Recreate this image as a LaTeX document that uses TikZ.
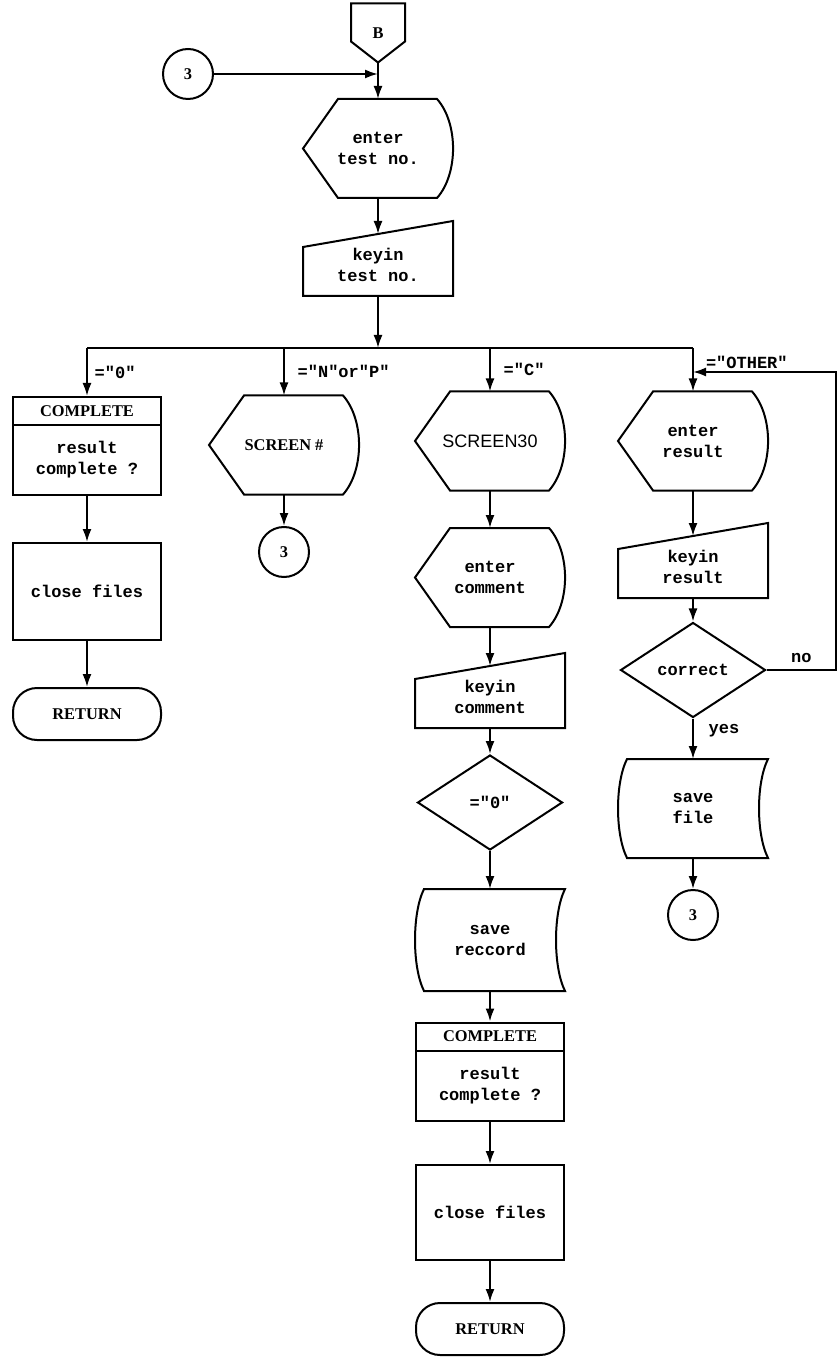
\documentclass[tikz,border=0pt]{standalone}
\usepackage{fontspec}
\setmainfont{Liberation Serif}
\setmonofont{Liberation Mono}
\setsansfont{Liberation Sans}
\usepackage{tikz}
\usetikzlibrary{arrows.meta}
\usetikzlibrary{calc}
\usetikzlibrary{positioning}
\usetikzlibrary{shapes.geometric}

\newcommand{\flowtt}{\ttfamily\bfseries\fontsize{8.5}{10.5}\selectfont}
\newcommand{\flowcap}{\rmfamily\bfseries\fontsize{8.2}{10}\selectfont}

\begin{document}
\begin{tikzpicture}[-,>={Latex[length=6.5pt,width=4.5pt]},line width=1pt,x=0.5pt,y=-0.5pt,font=\flowtt]
  \tikzstyle{conn}=[draw, circle, minimum size=25pt, inner sep=0pt, font=\flowcap]
  \tikzstyle{proc}=[draw, minimum width=74pt, minimum height=48.5pt, align=center]
  \tikzstyle{head}=[draw, minimum width=74pt, minimum height=14pt, inner sep=0pt, font=\flowcap]
  \tikzstyle{term}=[draw, rounded corners=12pt, minimum width=74pt, minimum height=26pt, font=\flowcap]
  \tikzstyle{dec}=[draw, diamond, minimum width=72.5pt, minimum height=47.5pt, inner sep=0pt]
  \tikzstyle{offp}=[minimum width=26pt, minimum height=28.5pt, inner sep=0pt, font=\flowcap,
    append after command={\pgfextra{\draw (\tikzlastnode.north west) -- (\tikzlastnode.north east)
      -- ($(\tikzlastnode.north east)+(0pt,-19pt)$) -- (\tikzlastnode.south)
      -- ($(\tikzlastnode.north west)+(0pt,-19pt)$) -- cycle;}}]
  \tikzstyle{disp}=[minimum width=74pt, minimum height=48.5pt, inner sep=0pt, align=center,
    append after command={\pgfextra{\draw ($(\tikzlastnode.north west)+(17.5pt,0pt)$)
      -- ($(\tikzlastnode.north east)+(-8pt,0pt)$)
      .. controls +(10.7pt,-12pt) and +(10.7pt,12pt) .. ($(\tikzlastnode.south east)+(-8pt,0pt)$)
      -- ($(\tikzlastnode.south west)+(17.5pt,0pt)$) -- (\tikzlastnode.west) -- cycle;}}]
  \tikzstyle{keyin}=[minimum width=74pt, minimum height=30pt, inner sep=0pt, align=center,
    append after command={\pgfextra{\draw (\tikzlastnode.south west)
      -- ($(\tikzlastnode.north west)+(0pt,-6.5pt)$) -- ($(\tikzlastnode.north east)+(0pt,6.5pt)$)
      -- (\tikzlastnode.south east) -- cycle;}}]
  \tikzstyle{store}=[minimum width=74pt, minimum height=50pt, inner sep=0pt, align=center,
    append after command={\pgfextra{\draw ($(\tikzlastnode.north west)+(4.5pt,0pt)$)
      -- (\tikzlastnode.north east)
      .. controls +(-6pt,-12pt) and +(-6pt,12pt) .. (\tikzlastnode.south east)
      -- ($(\tikzlastnode.south west)+(4.5pt,0pt)$)
      .. controls +(-6pt,12pt) and +(-6pt,-12pt) .. ($(\tikzlastnode.north west)+(4.5pt,0pt)$)
      -- cycle;}}]

  \useasboundingbox (0,0) rectangle (839,1363);

  % entry
  \node[offp] (B) at (378,33) {B};
  \node[conn] (c3a) at (188,74) {3};
  \coordinate (jB) at (378,74);
  \node[disp] (entT) at (378,148.5) {enter\\test no.};
  \node[keyin] (keyT) at (378,265) {keyin\\test no.};

  % branches
  \coordinate (jK) at (378,348);
  \coordinate (j1) at (87,348);
  \coordinate (j2) at (284,348);
  \coordinate (j3) at (490,348);
  \coordinate (j4) at (693,348);

  % ="0"
  \node[head] (cmpA) at (87,411) {COMPLETE};
  \node[proc, minimum height=35pt] (resA) [below=-1pt of cmpA] {result\\complete ?};
  \node[proc] (closeA) at (87,591.5) {close files};
  \node[term] (retA) at (87,714) {RETURN};

  % ="N"or"P"
  \node[disp, font=\flowcap] (scrN) at (284,445) {SCREEN \#};
  \node[conn] (c3b) at (284,552) {3};

  % ="C"
  \node[disp, font=\sffamily\fontsize{9}{10}\selectfont] (scr30) at (490,441) {SCREEN30};
  \node[disp] (entC) at (490,577.5) {enter\\comment};
  \node[keyin] (keyC) at (490,697) {keyin\\comment};
  \node[dec] (dia0) at (490,802.5) {="0"};
  \node[store] (saveR) at (490,940) {save\\reccord};
  \node[head] (cmpB) at (490,1036.5) {COMPLETE};
  \node[proc, minimum height=35pt] (resB) [below=-1pt of cmpB] {result\\complete ?};
  \node[proc, minimum height=47.5pt] (closeB) at (490,1212.5) {close files};
  \node[term] (retB) at (490,1329) {RETURN};

  % ="OTHER"
  \node[disp] (entR) at (693,441) {enter\\result};
  \node[keyin] (keyR) at (693,567) {keyin\\result};
  \node[dec] (corr) at (693,670) {correct};
  \node[store, minimum height=48.5pt] (saveF) at (693,808.5) {save\\file};
  \node[conn] (c3c) at (693,915) {3};
  \coordinate (jO) at (693,372);
  \coordinate (rNo) at (836,670);
  \coordinate (rTop) at (836,372);

  \path[->] (B) edge (entT)
            (c3a) edge (jB)
            (entT) edge (keyT)
            (keyT) edge (jK);
  \draw (j1) -- (j4);
  \path[->] (j1) edge node[right] {="0"} (cmpA)
            (j2) edge node[right, xshift=3pt] {="N"or"P"} (scrN)
            (j3) edge node[right, xshift=3pt] {="C"} (scr30)
            (j4) edge (entR);
  \path[->] (resA) edge (closeA)
            (closeA) edge (retA)
            (scrN) edge (c3b);
  \path[->] (scr30) edge (entC)
            (entC) edge (keyC)
            (keyC) edge (dia0)
            (dia0) edge (saveR)
            (saveR) edge (cmpB)
            (resB) edge (closeB)
            (closeB) edge (retB);
  \path[->] (entR) edge (keyR)
            (keyR) edge (corr)
            (corr) edge node[right, pos=.3, xshift=4pt] {yes} (saveF)
            (saveF) edge (c3c);
  \draw[->] (corr.east) -- node[above] {no} (rNo) -- (rTop)
    -- node[pos=1, anchor=south west, inner sep=1pt, xshift=5pt] {="OTHER"} (jO);
\end{tikzpicture}
\end{document}
